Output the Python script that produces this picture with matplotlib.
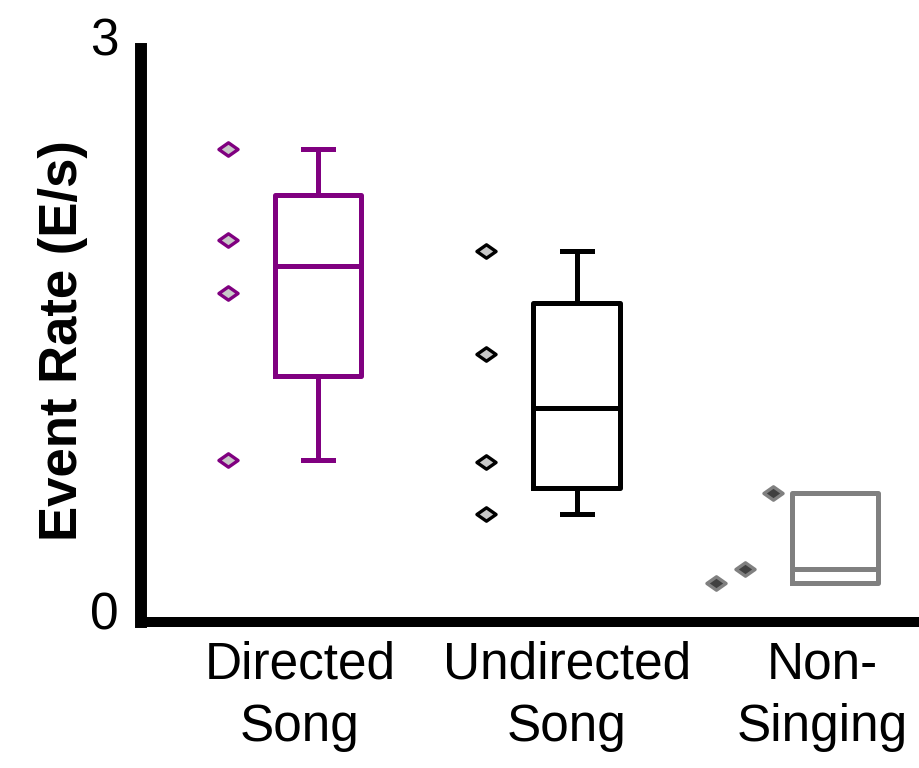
import numpy as np
import matplotlib
matplotlib.use("Agg")
import matplotlib.pyplot as plt
from matplotlib.path import Path
from matplotlib.transforms import ScaledTranslation

plt.rcParams['font.family'] = ['Liberation Sans', 'DejaVu Sans']

# event rates per bird (events / s)
groups = ['Directed\nSong', 'Undirected\nSong', 'Non-\nSinging']
directed = [2.476, 2.0, 1.723, 0.848]
undirected = [1.942, 1.403, 0.838, 0.565]
non_singing = [0.675, 0.279, 0.204]

# horizontal placement of the individual points, relative to the box
directed_dx = [-0.35, -0.35, -0.35, -0.35]
undirected_dx = [-0.35, -0.35, -0.35, -0.35]
non_singing_dx = [-0.24, -0.348, -0.46]

edge_colors = ['#800080', 'black', '#808080']
face_colors = ['#c8c8c8', '#c8c8c8', '#404040']


def hinge_stats(vals):
    # Tukey hinges (median excluded from halves), whiskers to the extremes
    v = np.sort(np.asarray(vals, dtype=float))
    n = len(v)
    med = np.median(v)
    lo = v[:n // 2]
    hi = v[(n + 1) // 2:]
    return dict(med=med, q1=np.median(lo), q3=np.median(hi),
                whislo=v[0], whishi=v[-1], fliers=[])


diamond = Path([(-1, 0), (0, 0.7), (1, 0), (0, -0.7), (-1, 0)],
               [Path.MOVETO, Path.LINETO, Path.LINETO, Path.LINETO, Path.CLOSEPOLY])

fig = plt.figure(figsize=(9.2, 7.68), dpi=100)
ax = fig.add_axes([0.1533, 0.1901, 0.8467, 0.7461])

data = [directed, undirected, non_singing]
offsets = [directed_dx, undirected_dx, non_singing_dx]
lw = 3.6
for i, (vals, dx) in enumerate(zip(data, offsets)):
    pos = i + 1
    c = edge_colors[i]
    st = hinge_stats(vals)
    ax.bxp([st], positions=[pos], widths=0.333, capwidths=0.116,
           showfliers=False, showcaps=(i < 2),
           boxprops=dict(color=c, linewidth=lw),
           whiskerprops=dict(color=c, linewidth=lw),
           capprops=dict(color=c, linewidth=lw),
           medianprops=dict(color=c, linewidth=lw))
    ax.scatter(pos + np.asarray(dx), vals, marker=diamond, s=190,
               facecolor=face_colors[i], edgecolor=c, linewidth=2.4, zorder=3)

ax.set_xlim(0.315, 3.329)
ax.set_ylim(0, 3)

for s in ['top', 'right']:
    ax.spines[s].set_visible(False)
ax.spines['left'].set_linewidth(8.6)
ax.spines['bottom'].set_linewidth(7.2)
ax.spines['bottom'].set_capstyle('projecting')

ax.set_yticks([0, 3])
ax.set_yticklabels(['0', '3'])
ax.tick_params(axis='y', length=0, pad=16, labelsize=37)
shift = ScaledTranslation(0, 12 / 100, fig.dpi_scale_trans)
for lab in ax.get_yticklabels():
    lab.set_transform(lab.get_transform() + shift)

ax.set_xticks([0.93, 1.963, 2.95])
ax.set_xticklabels(groups, linespacing=1.36)
ax.tick_params(axis='x', length=0, pad=13, labelsize=37)

ax.set_ylabel('Event Rate (E/s)', fontsize=38, fontweight='bold')
ax.yaxis.set_label_coords(-0.068, 0.492)

fig.savefig('out.png', dpi=100)
